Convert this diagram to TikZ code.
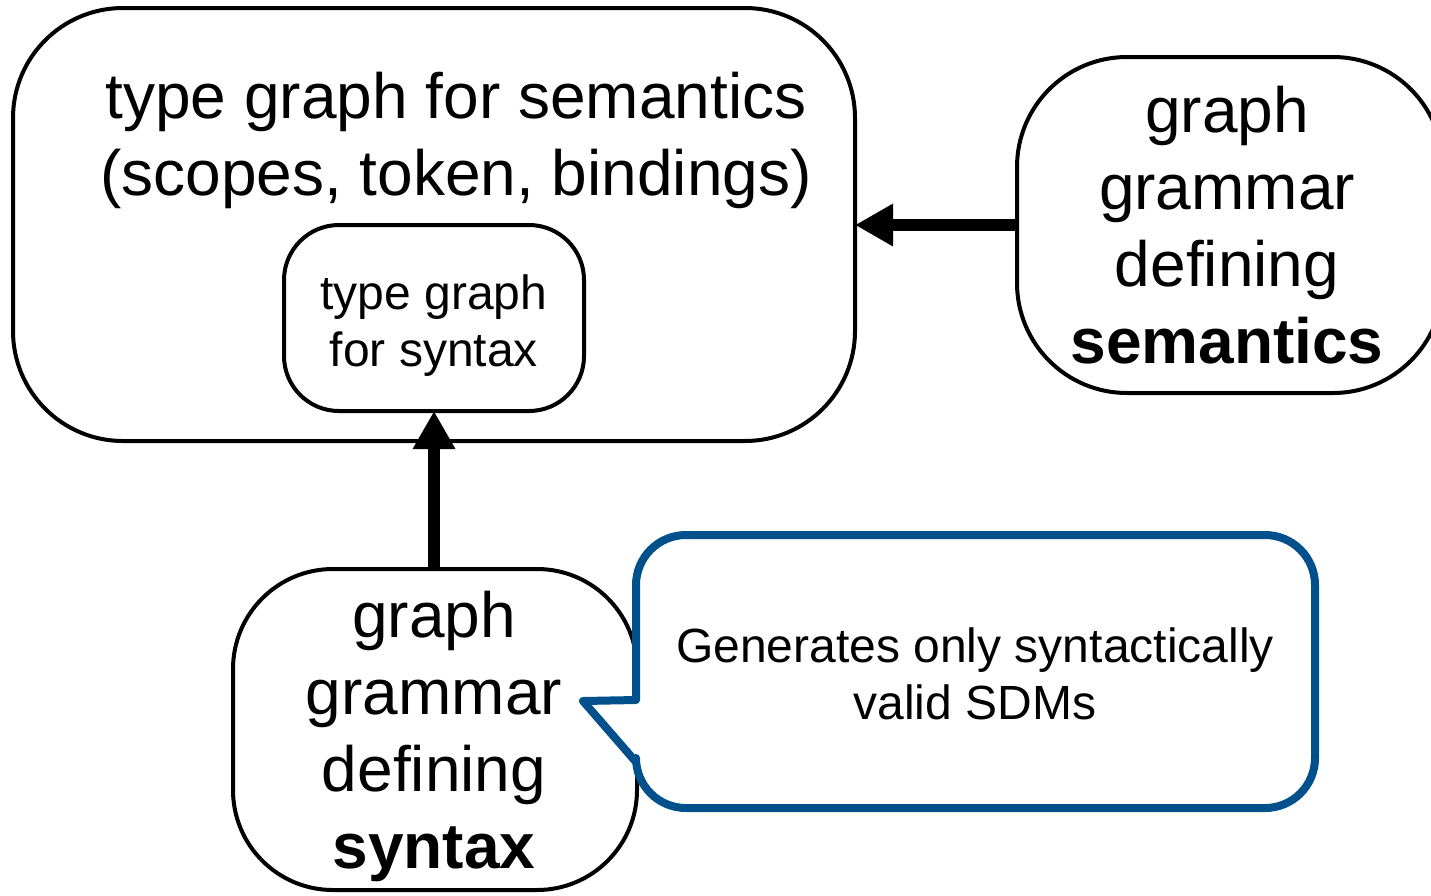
\documentclass[tikz,border=0pt]{standalone}
\usepackage{fontspec}
\setmainfont{Liberation Sans}
\usetikzlibrary{arrows.meta}
\definecolor{noteblue}{RGB}{0,80,140}
\begin{document}
\begin{tikzpicture}[x=1pt,y=-1pt,
  box/.style={draw=black,line width=4pt,fill=white,inner sep=0pt,outer sep=0pt},
  bigtxt/.style={font=\fontsize{64}{76.7}\selectfont,align=center,inner sep=0pt,anchor=base},
  smalltxt/.style={font=\fontsize{48}{56.5}\selectfont,align=center,inner sep=0pt,anchor=base},
  bigarrow/.style={line width=12pt,-{Triangle[length=38pt,width=40pt]}},
  notebox/.style={draw=noteblue,line width=8pt,fill=white,line join=round}]
\useasboundingbox (0,0) rectangle (1431,895);

% semantic type graph with the embedded syntax type graph
\node[box,rounded corners=110pt,minimum width=842pt,minimum height=433pt] (typesem) at (434,224.5) {};
\node[bigtxt] (typesemtxt) at (456,195) {type graph for semantics\\(scopes, token, bindings)};
\node[box,rounded corners=55pt,minimum width=300pt,minimum height=186pt] (typesyn) at (434,318) {};
\node[smalltxt] (typesyntxt) at (434,366) {type graph\\for syntax};

% the two graph grammars
\node[box,rounded corners=110pt,minimum width=426pt,minimum height=336pt] (gramsem) at (1230,225) {};
\node[bigtxt] (gramsemtxt) at (1227,363) {graph\\grammar\\defining\\\textbf{semantics}};
\node[box,rounded corners=100pt,minimum width=404pt,minimum height=321pt] (gramsyn) at (435,729.5) {};
\node[bigtxt] (gramsyntxt) at (434,868) {graph\\grammar\\defining\\\textbf{syntax}};

% connectors
\draw[bigarrow] (gramsyn.north -| typesyn.south) -- (typesyn.south);
\draw[bigarrow] (gramsem.west) -- (gramsem.west -| typesem.east);

% callout attached to the syntax grammar
\coordinate (tip) at (583,701);
\draw[notebox] (636,700) [rounded corners=50pt] -- (636,535) -- (1315,535) -- (1315,808) -- (636,808) [sharp corners] -- (636,762) -- (tip) -- cycle;
\node[smalltxt] (notetxt) at (975,719) {Generates only syntactically\\valid SDMs};
\end{tikzpicture}
\end{document}
